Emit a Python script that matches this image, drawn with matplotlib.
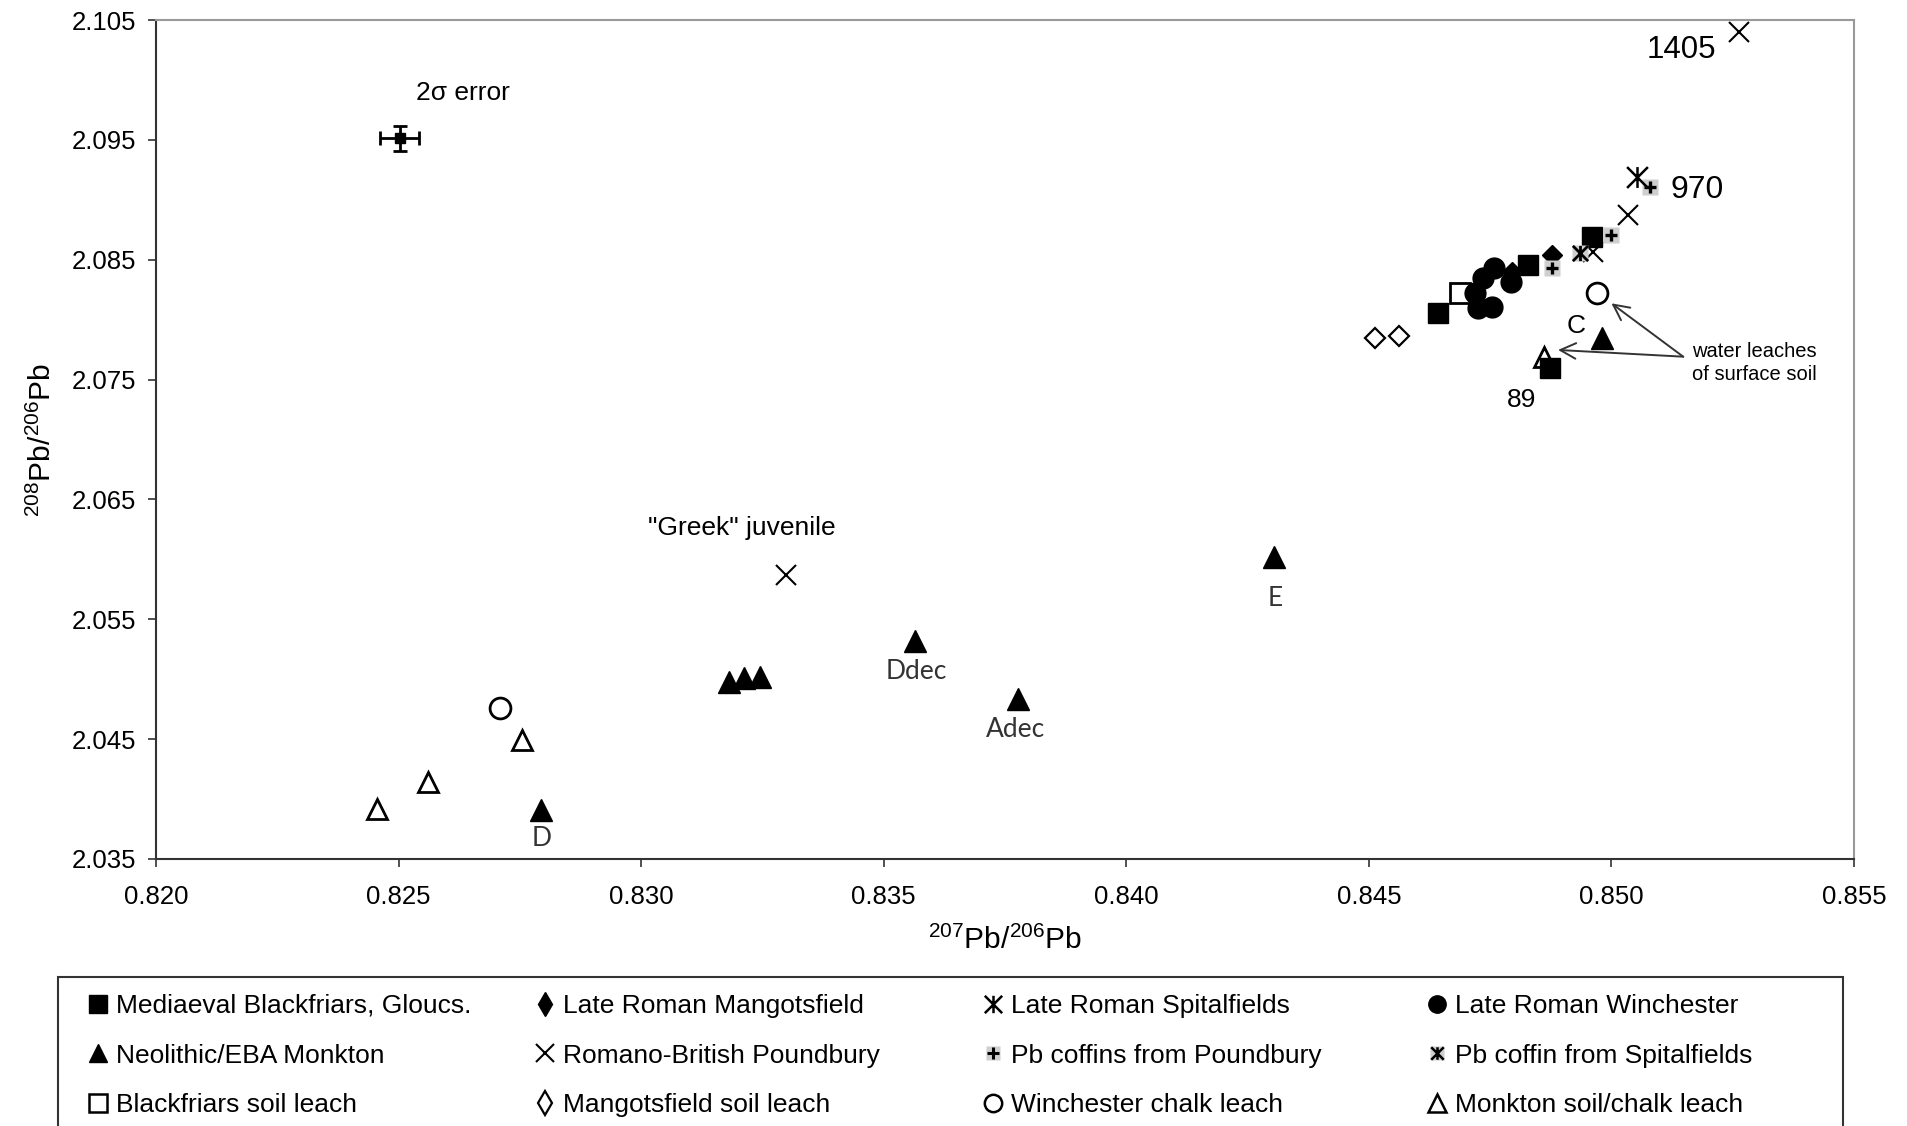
import matplotlib
matplotlib.use("Agg")
import matplotlib.pyplot as plt
from matplotlib.path import Path
from matplotlib.lines import Line2D
from matplotlib.patches import Rectangle

plt.rcParams['font.family'] = ['Liberation Sans', 'DejaVu Sans']
plt.rcParams['mathtext.default'] = 'regular'

# ---- data (207Pb/206Pb, 208Pb/206Pb) ----
blackfriars_x = [0.84642, 0.84829, 0.84959, 0.84873]
blackfriars_y = [2.08053, 2.08456, 2.08690, 2.07594]
mangotsfield_x = [0.84877, 0.84795]
mangotsfield_y = [2.08539, 2.08398]
spitalfields_x = [0.85052]
spitalfields_y = [2.09193]
winchester_x = [0.84757, 0.84736, 0.84719, 0.84726, 0.84753, 0.84794]
winchester_y = [2.08428, 2.08345, 2.08220, 2.08095, 2.08108, 2.08317]
monkton_x = [0.82794, 0.83182, 0.83211, 0.83245, 0.83565, 0.83777, 0.84305, 0.84980]
monkton_y = [2.03909, 2.04980, 2.05007, 2.05021, 2.05322, 2.04835, 2.06017, 2.07844]
poundbury_x = [0.83299, 0.84963, 0.85035, 0.85262]
poundbury_y = [2.05870, 2.08567, 2.08873, 2.10397]
coffins_pb_x = [0.84877, 0.85000, 0.85080]
coffins_pb_y = [2.08428, 2.08706, 2.09109]
coffin_sp_x = [0.84935]
coffin_sp_y = [2.08554]
bf_soil_x = [0.84688]
bf_soil_y = [2.08220]
mg_soil_x = [0.84513, 0.84563]
mg_soil_y = [2.07844, 2.07865]
win_chalk_x = [0.82709, 0.84970]
win_chalk_y = [2.04757, 2.08220]
mk_soil_x = [0.82456, 0.82560, 0.82754, 0.84862]
mk_soil_y = [2.03915, 2.04145, 2.04490, 2.07691]

err_x, err_y = 0.82502, 2.09513
err_dx, err_dy = 0.00041, 0.00104

x_ticks = [0.820, 0.825, 0.830, 0.835, 0.840, 0.845, 0.850, 0.855]
y_ticks = [2.035, 2.045, 2.055, 2.065, 2.075, 2.085, 2.095, 2.105]

# vertical bar + X marker
star_path = Path([(0, -1), (0, 1), (-1, -1), (1, 1), (-1, 1), (1, -1)],
                 [Path.MOVETO, Path.LINETO, Path.MOVETO, Path.LINETO, Path.MOVETO, Path.LINETO])

GRAY = '#cfcfcf'
W, H = 1908, 1126
fig = plt.figure(figsize=(W / 100, H / 100), dpi=100)
ax = fig.add_axes([156 / W, 1 - 859 / H, (1854 - 156) / W, (859 - 20) / H])

ms = 15
ax.plot(bf_soil_x, bf_soil_y, ls='none', marker='s', ms=ms, mfc='white', mec='black', mew=2)
ax.plot(mg_soil_x, mg_soil_y, ls='none', marker='D', ms=10, mfc='white', mec='black', mew=1.6)
ax.plot(win_chalk_x, win_chalk_y, ls='none', marker='o', ms=ms, mfc='white', mec='black', mew=2)
ax.plot(mk_soil_x, mk_soil_y, ls='none', marker='^', ms=ms, mfc='white', mec='black', mew=2)
ax.plot(winchester_x, winchester_y, ls='none', marker='o', ms=ms, color='black')
ax.plot(blackfriars_x, blackfriars_y, ls='none', marker='s', ms=ms, color='black')
ax.plot(mangotsfield_x, mangotsfield_y, ls='none', marker='D', ms=10, color='black')
ax.plot(monkton_x, monkton_y, ls='none', marker='^', ms=16, color='black')
ax.plot(poundbury_x, poundbury_y, ls='none', marker='x', ms=15, mew=1.5, color='black')
ax.plot(coffins_pb_x, coffins_pb_y, ls='none', marker='s', ms=11, color=GRAY, mec='none')
ax.plot(coffins_pb_x, coffins_pb_y, ls='none', marker='+', ms=9, mew=2.4, color='black')
ax.plot(coffin_sp_x, coffin_sp_y, ls='none', marker='s', ms=11, color=GRAY, mec='none')
ax.plot(coffin_sp_x, coffin_sp_y, ls='none', marker=star_path, ms=11, mew=2, color='black')
ax.plot(spitalfields_x, spitalfields_y, ls='none', marker=star_path, ms=15, mew=1.8, color='black')

ax.errorbar([err_x], [err_y], xerr=[err_dx], yerr=[err_dy], fmt='s', ms=7,
            color='black', elinewidth=2, capsize=5, capthick=2)

# annotations
ax.text(0.82633, 2.09888, '2σ error', fontsize=19, ha='center', va='center')
ax.text(0.83208, 2.06262, '"Greek" juvenile', fontsize=19, ha='center', va='center')
ax.text(0.85145, 2.10250, '1405', fontsize=22.5, ha='center', va='center')
ax.text(0.85176, 2.09082, '970', fontsize=23, ha='center', va='center')
ax.text(0.84814, 2.07330, '89', fontsize=19, ha='center', va='center')
ax.text(0.84927, 2.07947, 'C', fontsize=19, ha='center', va='center')
lbl = dict(fontsize=19, ha='center', va='center', color='#333333', family=['Lato', 'DejaVu Sans'])
ax.text(0.83568, 2.05063, 'Ddec', **lbl)
ax.text(0.83771, 2.04582, 'Adec', **lbl)
ax.text(0.82794, 2.03673, 'D', **lbl)
ax.text(0.84307, 2.05675, 'E', **lbl)
ax.text(0.85166, 2.07638, 'water leaches\nof surface soil', fontsize=14.5, ha='left', va='center', linespacing=1.3)
for hx, hy in [(0.84890, 2.07747), (0.85000, 2.08136)]:
    ax.annotate('', xy=(hx, hy), xytext=(0.85148, 2.07691),
                arrowprops=dict(arrowstyle='->', color='#333333', lw=1.4, mutation_scale=28, shrinkA=0, shrinkB=0))

ax.set_xlim(0.820, 0.855)
ax.set_ylim(2.035, 2.105)
ax.set_xticks(x_ticks)
ax.set_yticks(y_ticks)
ax.set_xticklabels([f'{v:.3f}' for v in x_ticks])
ax.set_yticklabels([f'{v:.3f}' for v in y_ticks])
ax.tick_params(axis='both', direction='out', length=6, width=1.2, labelsize=18.5, color='#333333')
ax.tick_params(axis='x', pad=13)
ax.tick_params(axis='y', pad=8)
for side in ['left', 'bottom']:
    ax.spines[side].set_color('#333333')
    ax.spines[side].set_linewidth(1.5)
for side in ['top', 'right']:
    ax.spines[side].set_color('#999999')
    ax.spines[side].set_linewidth(1.5)
ax.set_xlabel('$^{207}$Pb/$^{206}$Pb', fontsize=21.5, labelpad=12)
ax.set_ylabel('$^{208}$Pb/$^{206}$Pb', fontsize=21.5, labelpad=11)

# legend box (continues past the bottom of the figure)
fig.add_artist(Rectangle((58 / W, -0.1), (1843 - 58) / W, 0.1 + 1 - 977 / H,
                         transform=fig.transFigure, fill=False, ec='#333333', lw=1.5))

lm = 12.5
h_bf = Line2D([], [], ls='none', marker='s', ms=lm, color='black')
h_mg = Line2D([], [], ls='none', marker='d', ms=lm, color='black')
h_sp = Line2D([], [], ls='none', marker=star_path, ms=lm, mew=1.8, color='black')
h_wi = Line2D([], [], ls='none', marker='o', ms=lm, color='black')
h_mk = Line2D([], [], ls='none', marker='^', ms=lm, color='black')
h_pb = Line2D([], [], ls='none', marker='x', ms=lm, mew=1.5, color='black')
h_cp = (Line2D([], [], ls='none', marker='s', ms=10, color=GRAY, mec='none'),
        Line2D([], [], ls='none', marker='+', ms=8, mew=2.2, color='black'))
h_cs = (Line2D([], [], ls='none', marker='s', ms=10, color=GRAY, mec='none'),
        Line2D([], [], ls='none', marker=star_path, ms=9, mew=1.8, color='black'))
h_bs = Line2D([], [], ls='none', marker='s', ms=lm, mfc='white', mec='black', mew=1.8)
h_ms = Line2D([], [], ls='none', marker='d', ms=lm, mfc='white', mec='black', mew=1.6)
h_wc = Line2D([], [], ls='none', marker='o', ms=lm, mfc='white', mec='black', mew=1.8)
h_ml = Line2D([], [], ls='none', marker='^', ms=lm, mfc='white', mec='black', mew=1.8)

columns = [
    ([h_bf, h_mk, h_bs], ['Mediaeval Blackfriars, Gloucs.', 'Neolithic/EBA Monkton', 'Blackfriars soil leach']),
    ([h_mg, h_pb, h_ms], ['Late Roman Mangotsfield', 'Romano-British Poundbury', 'Mangotsfield soil leach']),
    ([h_sp, h_cp, h_wc], ['Late Roman Spitalfields', 'Pb coffins from Poundbury', 'Winchester chalk leach']),
    ([h_wi, h_cs, h_ml], ['Late Roman Winchester', 'Pb coffin from Spitalfields', 'Monkton soil/chalk leach']),
]
col_x = [86, 533, 981, 1425]
for cx, (handles, labels) in zip(col_x, columns):
    fig.legend(handles, labels, loc='upper left', bbox_to_anchor=(cx / W, 1 - 994 / H),
               frameon=False, fontsize=19, borderpad=0, borderaxespad=0,
               handlelength=0.9, handletextpad=0.25, labelspacing=0.97)

fig.savefig('out.png', dpi=100)
